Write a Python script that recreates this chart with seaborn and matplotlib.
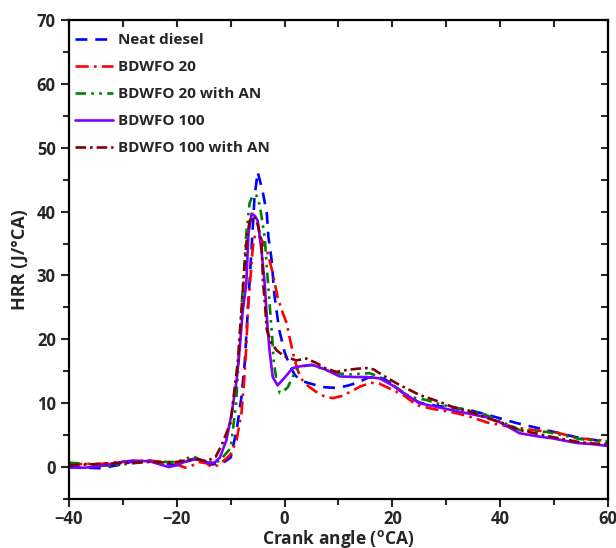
import matplotlib
matplotlib.use("Agg")
import matplotlib.pyplot as plt
import numpy as np
import pandas as pd
import seaborn as sns
from matplotlib.ticker import MultipleLocator

# crank angle / HRR, one pair of lists per fuel
diesel_x = [-40, -37, -34, -31, -28, -25, -22, -20, -18, -16.5, -15, -13.5, -12, -11, -10, -8.9, -8, -7.4, -7.0, -6.5,
            -6, -5.6, -5.0, -4.1, -3.3, -3.0, -2.4, -1.9, -1, 0, 1, 2, 3.5, 5.5, 7.5, 9.5, 11.5, 13.5, 15.5, 17, 18.5,
            20, 22, 25, 28, 31, 34, 38, 43, 47, 51, 54, 57, 60]
diesel_y = [0.0, -0.1, -0.2, 0.3, 0.9, 1.0, 0.5, 0.3, 0.9, 1.3, 1.0, 0.4, 0.6, 0.9, 1.5, 5.8, 11, 16.3, 22, 29,
            36, 42, 46.2, 43.3, 39.7, 36, 32.4, 27, 21.5, 18, 15.8, 14.3, 13.4, 12.9, 12.5, 12.4, 12.7, 13.2, 14.0, 14.2, 13.8,
            13.0, 11.6, 10.1, 9.6, 9.3, 9.0, 8.1, 6.9, 6.1, 5.3, 4.7, 4.3, 3.9]

b20_x = [-40, -37, -34, -31, -28, -25, -22, -20, -18.4, -17, -16, -14.5, -13.5, -12.4, -11, -10, -8.9, -8, -7.5, -7.1,
         -6.8, -6.3, -5.9, -5.5, -5, -4.2, -3.3, -2.2, -1.3, -0.5, 0.4, 1.0, 1.8, 2.5, 3.3, 4.5, 6, 7.5, 9, 10.5,
         12, 14, 16, 17.5, 19, 22, 24.5, 27.5, 31, 34, 37.5, 40, 43.6, 47, 50, 54.7, 57, 60]
b20_y = [0.4, 0.5, 0.5, 0.8, 1.0, 1.0, 0.8, 0.4, -0.1, 0.3, 0.8, 0.6, 0.0, 0.3, 1.2, 2.0, 4.2, 8.5, 13.6, 19,
         25, 30, 34.4, 36.3, 36.5, 35.5, 34, 30.4, 26.6, 24.5, 22.5, 20, 17, 15, 13.6, 12.6, 11.7, 11.0, 10.8, 11.1,
         11.7, 12.6, 13.2, 13.1, 12.5, 11.3, 9.7, 9.1, 8.6, 8.0, 7.0, 6.6, 6.1, 5.7, 5.5, 4.5, 4.3, 4.1]

b20an_x = [-40, -37, -34, -31, -28, -25, -22, -20, -18, -17, -15.5, -14, -13, -12, -11, -10, -9, -8.5, -7.8, -7.4,
           -7.1, -6.5, -5.9, -5.2, -4.6, -3.7, -3.1, -2.4, -2.0, -1.5, -0.9, -0.3, 0.6, 1.4, 2.2, 3.5, 5, 7, 9.6, 12,
           15.8, 17.6, 20, 23.2, 26.3, 29.3, 31.2, 34, 36.7, 40, 43.6, 48.6, 51, 54.7, 57, 60]
b20an_y = [0.7, 0.5, 0.2, 0.3, 0.6, 0.9, 0.8, 0.8, 1.4, 1.7, 1.1, 0.8, 0.7, 1.0, 2.0, 3.0, 10, 17, 27.7, 32.4,
           36.6, 41.3, 42.6, 42.5, 41, 36, 29, 21.4, 16.5, 13.5, 11.6, 11.8, 12.5, 14, 15.2, 15.8, 16.0, 15.4, 14.7, 14.5,
           14.7, 14.1, 12.9, 11.0, 10.5, 9.7, 9.4, 8.9, 8.4, 7.2, 5.8, 5.5, 5.1, 4.4, 4.2, 4.0]

b100_x = [-40, -37, -34, -31, -28, -25, -21.5, -20, -18, -16.9, -15, -14.1, -13, -12, -10.8, -9.8, -8.9, -8.3, -7.8, -7.1,
          -6.7, -6.1, -5.5, -5, -4.3, -3.7, -3.3, -2.8, -2.2, -1.3, 0, 1.5, 3, 5.2, 7.5, 10.2, 13, 15.2, 17.6, 20,
          21.9, 25, 30, 34, 37.5, 40, 43.6, 47, 49.7, 54, 57, 60]
b100_y = [-0.1, -0.1, 0.2, 0.7, 1.0, 0.9, 0.0, 0.3, 1.0, 1.3, 1.0, 0.6, 0.7, 1.5, 4.2, 8.5, 13.6, 18.8, 24.1, 28.8,
          36.6, 39.7, 39.3, 38.6, 34, 28.8, 23.5, 18.3, 14.1, 12.8, 14.0, 15.5, 15.8, 16.0, 15.3, 14.2, 14.1, 14.1, 13.9, 12.8,
          11.7, 10.0, 9.1, 8.4, 7.8, 7.0, 5.3, 4.8, 4.5, 3.8, 3.6, 3.3]

b100an_x = [-40, -37, -34, -31, -28, -25, -22, -20, -18, -16, -14.5, -12.8, -11.7, -10, -9.6, -8.7, -7.8, -7.1, -6.5, -6,
            -5.5, -5, -4.3, -4.0, -3.6, -3.3, -2.5, -1.5, 0, 2.2, 4, 5.9, 7.5, 9.6, 11.5, 13.5, 15.2, 16.5, 17.6, 20.8,
            25, 28.8, 31.2, 34, 37.5, 40, 43.6, 47, 49.7, 54.7, 57, 60]
b100an_y = [0.3, 0.4, 0.5, 0.6, 0.7, 0.8, 0.7, 0.8, 1.1, 1.2, 0.9, 1.6, 3.4, 7.0, 10, 16.3, 27, 35, 38.5, 39.2,
            39, 38, 35.5, 29, 25, 21.5, 19.5, 18.3, 17.3, 16.7, 17.0, 16.3, 15.5, 14.9, 15.2, 15.4, 15.5, 15.3, 14.7, 13.1,
            11.3, 10.2, 9.4, 8.8, 7.7, 7.0, 5.8, 5.2, 4.7, 3.9, 3.7, 3.6]

labels = ["Neat diesel", "BDWFO 20", "BDWFO 20 with AN", "BDWFO 100", "BDWFO 100 with AN"]
colors = ["#0000FF", "#FF0000", "#008000", "#8000FF", "#800000"]
styles = [(0, (4.5, 3)), (0, (5, 2, 1, 2)), (0, (4, 2, 1, 2, 1, 2)), "-", (0, (4, 1.5, 1, 1.5))]
series = [(diesel_x, diesel_y), (b20_x, b20_y), (b20an_x, b20an_y), (b100_x, b100_y), (b100an_x, b100an_y)]

sns.set_theme(style="ticks")
plt.rcParams["font.family"] = ["Open Sans", "DejaVu Sans"]
plt.rcParams["font.weight"] = "bold"
plt.rcParams["axes.labelweight"] = "bold"
plt.rcParams["mathtext.default"] = "bf"

fig = plt.figure(figsize=(6.16, 5.48), dpi=100)
ax = fig.add_axes([0.112, 0.0894, 0.875, 0.8741])

for (xs, ys), lab, col, ls in zip(series, labels, colors, styles):
    df = pd.DataFrame({"x": xs, "y": ys})
    sns.lineplot(data=df, x="x", y="y", color=col, linestyle=ls, linewidth=1.9, label=lab, sort=False, ax=ax)

ax.set_xlim(-40, 60)
ax.set_ylim(-5, 70)
ax.xaxis.set_major_locator(MultipleLocator(20))
ax.xaxis.set_minor_locator(MultipleLocator(10))
ax.yaxis.set_major_locator(MultipleLocator(10))
ax.yaxis.set_minor_locator(MultipleLocator(5))
ax.tick_params(which="major", direction="out", length=6, width=1.5, labelsize=12)
ax.tick_params(which="minor", direction="out", length=4, width=1.5)
ax.tick_params(axis="x", which="major", pad=2)
for lab in ax.get_xticklabels() + ax.get_yticklabels():
    lab.set_fontweight("bold")
for sp in ax.spines.values():
    sp.set_visible(True)
    sp.set_linewidth(1.6)
    sp.set_color("black")

top = ax.secondary_xaxis("top")
top.xaxis.set_major_locator(MultipleLocator(20))
top.xaxis.set_minor_locator(MultipleLocator(10))
top.tick_params(which="both", direction="in", length=5, width=1.5, labeltop=False)
right = ax.secondary_yaxis("right")
right.yaxis.set_major_locator(MultipleLocator(10))
right.yaxis.set_minor_locator(MultipleLocator(5))
right.tick_params(which="both", direction="in", length=5, width=1.5, labelright=False)

ax.set_xlabel(r"Crank angle ($^{\mathregular{o}}$CA)", fontsize=12.5, fontweight="bold", labelpad=0)
ax.set_ylabel("HRR (J/°CA)", fontsize=13, fontweight="bold", labelpad=6)

ax.legend(loc="upper left", bbox_to_anchor=(0.0, 0.985), frameon=False, handlelength=2.5, labelspacing=0.85,
          borderaxespad=0, borderpad=0.4, handletextpad=0.3, prop={"weight": "bold", "size": 11})

fig.savefig("out.png", dpi=100)
